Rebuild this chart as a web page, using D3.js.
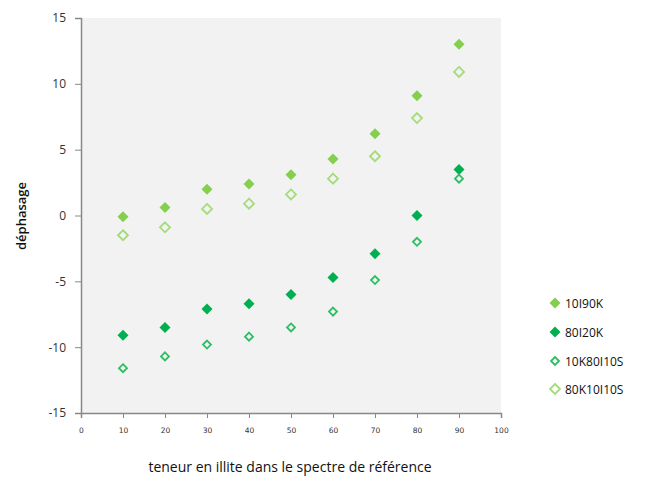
<!DOCTYPE html>
<html><head><meta charset="utf-8">
<script src="https://cdn.jsdelivr.net/npm/d3@7"></script>
<style>body{margin:0;background:#fff;} svg{display:block;}</style>
</head><body>
<svg id="c" width="648" height="479"></svg>
<script>
const xValues = [10,20,30,40,50,60,70,80,90];
const s10I90K = [-0.1,0.6,2.0,2.4,3.1,4.3,6.2,9.1,13.0];
const s80I20K = [-9.1,-8.5,-7.1,-6.7,-6.0,-4.7,-2.9,0.0,3.5];
const s10K80I10S = [-11.6,-10.7,-9.8,-9.2,-8.5,-7.3,-4.9,-2.0,2.8];
const s80K10I10S = [-1.5,-0.9,0.5,0.9,1.6,2.8,4.5,7.4,10.9];
const seriesNames = ["10I90K","80I20K","10K80I10S","80K10I10S"];
const xTicks = [0,10,20,30,40,50,60,70,80,90,100];
const yTicks = [-15,-10,-5,0,5,10,15];

const styles = [
  {fill:"#85cf4f", stroke:"none", r:5.5, sw:0},
  {fill:"#00b050", stroke:"none", r:5.5, sw:0},
  {fill:"none", stroke:"#2dbd63", r:4, sw:1.8},
  {fill:"none", stroke:"#a3dc7a", r:5, sw:1.8}
];
const data = [s10I90K, s80I20K, s10K80I10S, s80K10I10S];

const svg = d3.select("#c");
const x = d3.scaleLinear().domain([0,100]).range([81,501]);
const y = d3.scaleLinear().domain([-15,15]).range([413,18]);

svg.append("rect").attr("x",x(0)).attr("y",y(15)).attr("width",x(100)-x(0)).attr("height",y(-15)-y(15)).attr("fill","#f2f2f2");

const fmt = d => String(d);
const axisColor = "#888";
const gx = svg.append("g").attr("transform",`translate(0,${y(-15)})`)
  .call(d3.axisBottom(x).tickValues(xTicks).tickSize(5).tickPadding(10).tickFormat(fmt));
gx.selectAll("text").attr("font-family","DejaVu Sans").attr("font-size","7.5px").attr("fill","#333");
const gy = svg.append("g").attr("transform",`translate(${x(0)},0)`)
  .call(d3.axisLeft(y).tickValues(yTicks).tickSize(6).tickPadding(9).tickFormat(fmt));
gy.selectAll("text").attr("font-family","Open Sans").attr("font-size","12px").attr("fill","#333");
[gx,gy].forEach(g=>{g.select(".domain").attr("stroke",axisColor).attr("stroke-width",1.5);g.selectAll(".tick line").attr("stroke",axisColor);});

function diamond(r){return `M0,${-r}L${r},0L0,${r}L${-r},0Z`;}

data.forEach((vals,i)=>{
  const st = styles[i];
  svg.append("g").selectAll("path").data(vals).join("path")
    .attr("d",diamond(st.r))
    .attr("transform",(d,j)=>`translate(${x(xValues[j])},${y(d)})`)
    .attr("fill",st.fill).attr("stroke",st.stroke).attr("stroke-width",st.sw);
});

// legend
const legY = [303,332,361,389];
seriesNames.forEach((n,i)=>{
  const st = styles[i];
  const g = svg.append("g").attr("transform",`translate(555,${legY[i]})`);
  g.append("path").attr("d",diamond(st.r)).attr("fill",st.fill).attr("stroke",st.stroke).attr("stroke-width",st.sw);
  g.append("text").attr("x",10).attr("y",4.5).text(n).attr("font-family","Open Sans").attr("font-size","12px").attr("fill","#111");
});

svg.append("text").attr("x",290).attr("y",472).attr("text-anchor","middle")
  .attr("font-family","Open Sans").attr("font-size","14px").attr("fill","#111")
  .text("teneur en illite dans le spectre de référence");
svg.append("text").attr("transform","translate(26,216) rotate(-90)").attr("text-anchor","middle")
  .attr("font-family","Open Sans").attr("font-size","13px").attr("font-weight","600").attr("fill","#111")
  .text("déphasage");
</script>
</body></html>
